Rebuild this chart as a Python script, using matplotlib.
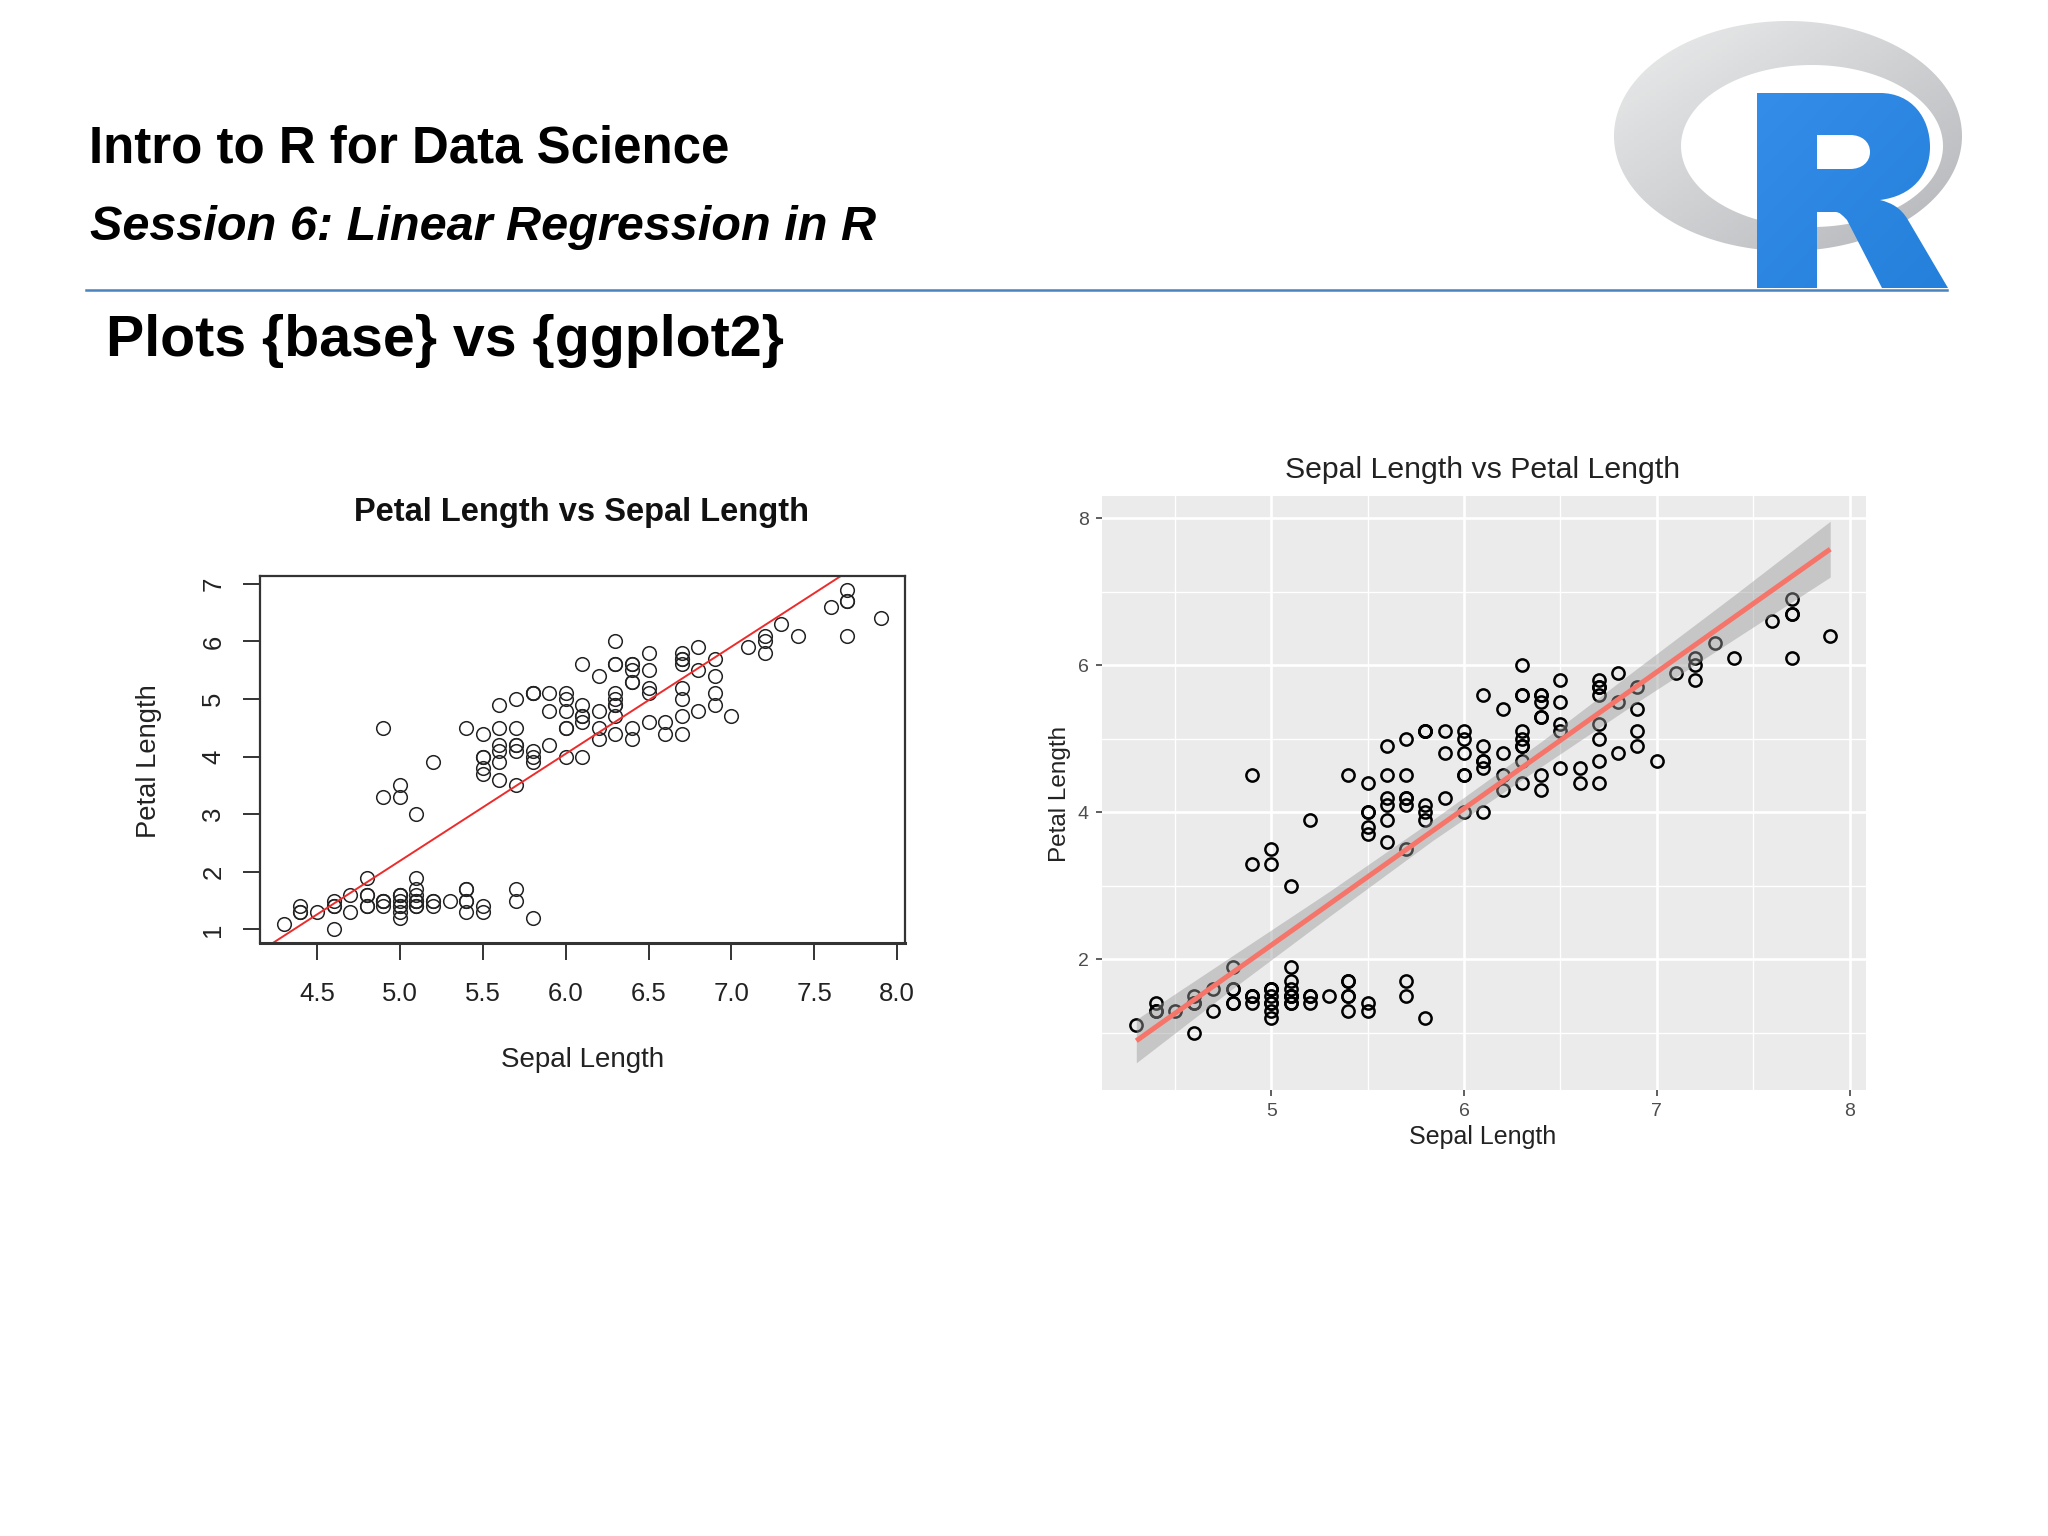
## Slide: Plots {base} vs {ggplot2}, iris sepal vs petal length
import matplotlib
matplotlib.use('Agg')
import matplotlib.pyplot as plt
import numpy as np
from matplotlib.path import Path
from matplotlib.patches import PathPatch

plt.rcParams['font.family'] = ['Liberation Sans', 'DejaVu Sans']

sepal_length = [5.1,4.9,4.7,4.6,5.0,5.4,4.6,5.0,4.4,4.9,5.4,4.8,4.8,4.3,5.8,5.7,5.4,5.1,5.7,5.1,5.4,5.1,4.6,5.1,4.8,
                5.0,5.0,5.2,5.2,4.7,4.8,5.4,5.2,5.5,4.9,5.0,5.5,4.9,4.4,5.1,5.0,4.5,4.4,5.0,5.1,4.8,5.1,4.6,5.3,5.0,
                7.0,6.4,6.9,5.5,6.5,5.7,6.3,4.9,6.6,5.2,5.0,5.9,6.0,6.1,5.6,6.7,5.6,5.8,6.2,5.6,5.9,6.1,6.3,6.1,6.4,
                6.6,6.8,6.7,6.0,5.7,5.5,5.5,5.8,6.0,5.4,6.0,6.7,6.3,5.6,5.5,5.5,6.1,5.8,5.0,5.6,5.7,5.7,6.2,5.1,5.7,
                6.3,5.8,7.1,6.3,6.5,7.6,4.9,7.3,6.7,7.2,6.5,6.4,6.8,5.7,5.8,6.4,6.5,7.7,7.7,6.0,6.9,5.6,7.7,6.3,6.7,
                7.2,6.2,6.1,6.4,7.2,7.4,7.9,6.4,6.3,6.1,7.7,6.3,6.4,6.0,6.9,6.7,6.9,5.8,6.8,6.7,6.7,6.3,6.5,6.2,5.9]
petal_length = [1.4,1.4,1.3,1.5,1.4,1.7,1.4,1.5,1.4,1.5,1.5,1.6,1.4,1.1,1.2,1.5,1.3,1.4,1.7,1.5,1.7,1.5,1.0,1.7,1.9,
                1.6,1.6,1.5,1.4,1.6,1.6,1.5,1.5,1.4,1.5,1.2,1.3,1.5,1.3,1.5,1.3,1.3,1.3,1.6,1.9,1.4,1.6,1.4,1.5,1.4,
                4.7,4.5,4.9,4.0,4.6,4.5,4.7,3.3,4.6,3.9,3.5,4.2,4.0,4.7,3.6,4.4,4.5,4.1,4.5,3.9,4.8,4.0,4.9,4.7,4.3,
                4.4,4.8,5.0,4.5,3.5,3.8,3.7,3.9,5.1,4.5,4.5,4.7,4.4,4.1,4.0,4.4,4.6,4.0,3.3,4.2,4.2,4.2,4.3,3.0,4.1,
                6.0,5.1,5.9,5.6,5.8,6.6,4.5,6.3,5.8,6.1,5.1,5.3,5.5,5.0,5.1,5.3,5.5,6.7,6.9,5.0,5.7,4.9,6.7,4.9,5.7,
                6.0,4.8,4.9,5.6,5.8,6.1,6.4,5.6,5.1,5.6,6.1,5.6,5.5,4.8,5.4,5.6,5.1,5.1,5.9,5.7,5.2,5.0,5.2,5.4,5.1]

# fitted line and its confidence band
fit_x = [4.3, 7.9]
fit_y = [0.89, 7.58]
abline_x = [4.0, 8.2]
abline_y = [0.33, 8.14]
band_x = [4.3, 4.8, 5.3, 5.84, 6.4, 6.9, 7.4, 7.9]
band_low = [0.59, 1.60, 2.58, 3.62, 4.62, 5.50, 6.35, 7.20]
band_high = [1.18, 2.05, 2.92, 3.90, 4.96, 5.96, 6.95, 7.96]

base_xticks = [4.5, 5.0, 5.5, 6.0, 6.5, 7.0, 7.5, 8.0]
base_yticks = [1, 2, 3, 4, 5, 6, 7]
gg_xticks = [5, 6, 7, 8]
gg_yticks = [2, 4, 6, 8]
gg_xminor = [4.5, 5.5, 6.5, 7.5]
gg_yminor = [1, 3, 5, 7]

W, H = 2048, 1536
fig = plt.figure(figsize=(W/100, H/100), dpi=100, facecolor='white')

def axes_px(left, top, right, bottom, **kw):
    return fig.add_axes([left/W, 1-bottom/H, (right-left)/W, (bottom-top)/H], **kw)

# full page layer in pixel coordinates for slide text and the logo
page = fig.add_axes([0, 0, 1, 1])
page.set_xlim(0, W)
page.set_ylim(H, 0)
page.axis('off')

page.text(89, 149, 'Intro to R for Data Science', fontsize=36.7, fontweight='bold', va='center')
page.text(90, 227, 'Session 6: Linear Regression in R', fontsize=35, fontweight='bold', style='italic', va='center')
page.text(106, 341, 'Plots {base} vs {ggplot2}', fontsize=41.2, fontweight='bold', va='center')

# R logo, grey ring then blue letter
t = np.linspace(0, 2*np.pi, 240)
outer = np.column_stack([1788 + 174*np.cos(t), 136 + 115*np.sin(t)])
inner = np.column_stack([1812 + 131*np.cos(-t), 146 + 81*np.sin(-t)])
ring_path = Path.make_compound_path(Path(outer, closed=False), Path(inner, closed=False))
grad = np.add.outer(np.linspace(0, 1, 64), np.linspace(0, 1, 64)) / 2
ring_img = page.imshow(grad, extent=(1612, 1963, 252, 20), cmap=matplotlib.colors.LinearSegmentedColormap.from_list('ring', ['#eceded', '#b4b5b9']),
                       aspect='auto', zorder=1)
ring_img.set_clip_path(PathPatch(ring_path, transform=page.transData))

M, L, C, Z = Path.MOVETO, Path.LINETO, Path.CURVE4, Path.CLOSEPOLY
r_verts = [(1757,93),(1880,93),(1912,93),(1930,118),(1930,147),(1930,175),(1912,196),(1880,200),
           (1892,203),(1901,208),(1908,220),(1948,288),(1882,288),(1847,220),(1842,215),(1840,212),(1835,212),
           (1817,212),(1817,288),(1757,288),(1757,93),
           (1817,135),(1817,169),(1850,169),(1862,169),(1870,162),(1870,152),(1870,142),(1862,135),(1850,135),(1817,135)]
r_codes = [M,L,C,C,C,C,C,C,C,C,C,L,L,L,C,C,C,L,L,L,Z,M,L,L,C,C,C,C,C,C,Z]
r_path = Path(r_verts, r_codes)
r_img = page.imshow(grad, extent=(1757, 1948, 290, 93), cmap=matplotlib.colors.LinearSegmentedColormap.from_list('blue', ['#348de9', '#2480da']),
                    aspect='auto', zorder=2)
r_img.set_clip_path(PathPatch(r_path, transform=page.transData))
page.set_xlim(0, W)
page.set_ylim(H, 0)
page.plot([86, 1947], [290, 290], color='#4a83bd', lw=1.8, zorder=3)

# base R plot
ax1 = axes_px(260, 576, 904.5, 943)
ax1.plot(sepal_length, petal_length, 'o', mfc='none', mec='#222222', mew=1.1, ms=9.8, clip_on=False)
ax1.plot(abline_x, abline_y, color='#ee2b2b', lw=1.4)
ax1.set_xlim(4.156, 8.044)
ax1.set_ylim(0.764, 7.136)
ax1.set_xticks(base_xticks)
ax1.set_xticklabels(['%.1f' % v for v in base_xticks])
ax1.set_yticks(base_yticks)
ax1.tick_params(axis='x', length=12, width=1.4, pad=16, labelsize=18.5, color='#333333', labelcolor='#222222')
ax1.tick_params(axis='y', length=12, width=1.4, pad=13, labelsize=18.5, color='#333333', labelcolor='#222222', labelrotation=90)
for lab in ax1.get_yticklabels():
    lab.set_va('center')
for s in ax1.spines.values():
    s.set_linewidth(1.6)
    s.set_color('#333333')
ax1.spines['bottom'].set_linewidth(2.2)
page.text(582, 513, 'Petal Length vs Sepal Length', fontsize=23.5, fontweight='bold', ha='center', va='center', color='#111111')
page.text(583, 1060, 'Sepal Length', fontsize=20, ha='center', va='center', color='#222222')
page.text(149, 761, 'Petal Length', fontsize=19.7, rotation=90, ha='center', va='center', color='#222222')

# ggplot2 plot
ax2 = axes_px(1102, 495.5, 1865.5, 1089.5, facecolor='#ebebeb')
ax2.set_axisbelow(True)
ax2.plot(sepal_length, petal_length, 'o', mfc='none', mec='black', mew=1.8, ms=8.8, zorder=3)
ax2.fill_between(band_x, band_low, band_high, color='#999999', alpha=0.45, lw=0, zorder=4)
ax2.plot(fit_x, fit_y, color='#f5756a', lw=3.6, solid_capstyle='butt', zorder=5)
ax2.set_xlim(4.122, 8.083)
ax2.set_ylim(0.227, 8.31)
ax2.set_xticks(gg_xticks)
ax2.set_yticks(gg_yticks)
ax2.set_xticks(gg_xminor, minor=True)
ax2.set_yticks(gg_yminor, minor=True)
ax2.grid(True, which='major', color='white', lw=1.9)
ax2.grid(True, which='minor', color='white', lw=1.0)
ax2.tick_params(which='major', length=4.5, width=1.1, color='#333333', labelcolor='#4d4d4d', labelsize=14, pad=5)
ax2.tick_params(which='minor', length=0)
for s in ax2.spines.values():
    s.set_visible(False)
page.text(1483, 470, 'Sepal Length vs Petal Length', fontsize=21.8, ha='center', va='center', color='#222222')
page.text(1483, 1137, 'Sepal Length', fontsize=18, ha='center', va='center', color='#222222')
page.text(1060, 794, 'Petal Length', fontsize=17.5, rotation=90, ha='center', va='center', color='#222222')

fig.savefig('out.png', dpi=100)
